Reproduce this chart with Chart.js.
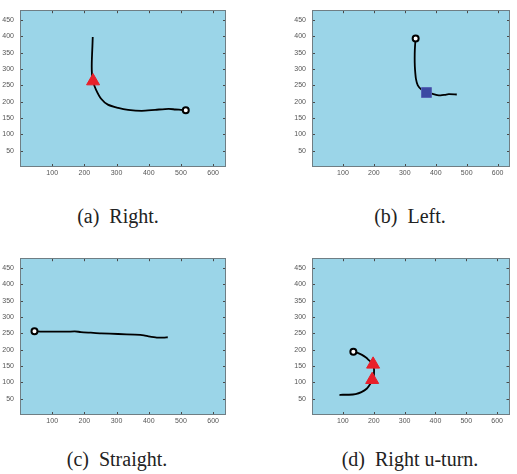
<!DOCTYPE html>
<html>
<head>
<meta charset="utf-8">
<script src="https://cdn.jsdelivr.net/npm/chart.js@4/dist/chart.umd.min.js"></script>
<style>
  html, body { margin:0; padding:0; background:#fff; width:517px; height:474px; overflow:hidden; }
  .wrap { position:absolute; }
  canvas { display:block; }
  .cap { position:absolute; width:220px; text-align:center; font-family:"Liberation Serif","Times New Roman",serif;
         font-size:20px; line-height:20px; color:#222; white-space:pre; }
</style>
</head>
<body>
<div class="wrap" style="left:0px;top:0px;"><canvas id="ca" width="240" height="190"></canvas></div>
<div class="wrap" style="left:292px;top:0px;"><canvas id="cb" width="226" height="190"></canvas></div>
<div class="wrap" style="left:0px;top:248px;"><canvas id="cc" width="240" height="190"></canvas></div>
<div class="wrap" style="left:292px;top:248px;"><canvas id="cd" width="226" height="190"></canvas></div>
<div class="cap" id="capA" style="left:8px;top:206px;"></div>
<div class="cap" id="capB" style="left:300px;top:206px;"></div>
<div class="cap" id="capC" style="left:7px;top:449px;"></div>
<div class="cap" id="capD" style="left:300px;top:449px;"></div>
<script>
// ---- data ----
const captions = ["(a)  Right.", "(b)  Left.", "(c)  Straight.", "(d)  Right u-turn."];
const xTicks = [100, 200, 300, 400, 500, 600];
const yTicks = [50, 100, 150, 200, 250, 300, 350, 400, 450];
const xRange = [0, 640];
const yRange = [0, 480];

// (a) Right
const aPathX = [226, 225, 224, 223, 223, 224, 227, 236, 252, 273, 305, 336, 378, 420, 462, 483, 500, 515];
const aPathY = [398, 370, 347, 320, 298, 280, 262, 237, 209, 191, 181, 175, 172, 175, 178, 176, 175, 174];
const aStartX = [515], aStartY = [174];
const aTriX = [227], aTriY = [263];

// (b) Left
const bPathX = [335, 333, 332, 332, 333, 336, 342, 354, 369, 390, 405, 416, 430, 442, 468];
const bPathY = [393, 370, 347, 320, 298, 270, 250, 237, 229, 224, 220, 219, 221, 223, 222];
const bStartX = [335], bStartY = [393];
const bSqX = [370], bSqY = [228];

// (c) Straight
const cPathX = [45, 70, 95, 147, 170, 189, 220, 252, 305, 357, 385, 399, 425, 445, 459];
const cPathY = [256, 255, 255, 255, 256, 254, 252, 250, 248, 246, 244, 241, 237, 237, 238];
const cStartX = [45], cStartY = [256];

// (d) Right u-turn
const dPathX = [134, 148, 162, 175, 183, 191, 198, 201, 201, 200, 195, 188, 178, 160, 141, 120, 100, 89];
const dPathY = [194, 190, 184, 176, 169, 162, 155, 140, 130, 118, 108, 94, 81, 70, 64, 62, 62, 61];
const dStartX = [134], dStartY = [194];
const dTriX = [198, 195], dTriY = [155, 108];

// ---- styles ----
const BG = '#9BD5E8';
const BORDER = '#6f7e84';
const TICKC = '#4a4a4a';
const RED = '#E8202A';
const BLUE = '#3C4AA3';

function pts(xs, ys) { return xs.map((x, i) => ({x: x, y: ys[i]})); }

const boxPlugin = {
  id: 'box',
  beforeDraw(chart) {
    const a = chart.chartArea, ctx = chart.ctx;
    ctx.save();
    ctx.fillStyle = BG;
    ctx.fillRect(a.left, a.top, a.right - a.left, a.bottom - a.top);
    ctx.restore();
  },
  afterDraw(chart) {
    const a = chart.chartArea, ctx = chart.ctx;
    const xs = chart.scales.x, ys = chart.scales.y;
    ctx.save();
    ctx.strokeStyle = TICKC;
    ctx.lineWidth = 1;
    ctx.beginPath();
    xTicks.forEach(v => {
      const px = Math.round(xs.getPixelForValue(v)) + 0.5;
      ctx.moveTo(px, a.bottom); ctx.lineTo(px, a.bottom - 3);
      ctx.moveTo(px, a.top); ctx.lineTo(px, a.top + 3);
    });
    yTicks.forEach(v => {
      const py = Math.round(ys.getPixelForValue(v)) + 0.5;
      ctx.moveTo(a.left, py); ctx.lineTo(a.left + 3, py);
      ctx.moveTo(a.right, py); ctx.lineTo(a.right - 3, py);
    });
    ctx.stroke();
    ctx.strokeStyle = BORDER;
    ctx.strokeRect(Math.round(a.left) + 0.5, Math.round(a.top) + 0.5,
                   Math.round(a.right - a.left) - 1, Math.round(a.bottom - a.top) - 1);
    ctx.restore();
  }
};

function makeChart(id, markerSets, pathX, pathY, padRight) {
  const datasets = markerSets.slice();
  datasets.push({
    data: pts(pathX, pathY), showLine: true, borderColor: '#000', borderWidth: 1.8,
    pointRadius: 0, tension: 0.25, fill: false
  });
  return new Chart(document.getElementById(id), {
    type: 'scatter',
    data: { datasets: datasets },
    options: {
      responsive: false, animation: false, devicePixelRatio: 1,
      layout: { padding: { left: 0, right: padRight, top: 5, bottom: 0 } },
      plugins: { legend: { display: false }, tooltip: { enabled: false } },
      scales: {
        x: {
          type: 'linear', min: xRange[0], max: xRange[1],
          afterFit(s) { s.height = 23; },
          afterBuildTicks(s) { s.ticks = xTicks.map(v => ({value: v})); },
          ticks: { font: { family: 'Liberation Sans', size: 7 }, color: '#555', padding: 2, maxRotation: 0, autoSkip: false },
          grid: { display: false, drawTicks: false },
          border: { display: false }
        },
        y: {
          type: 'linear', min: yRange[0], max: yRange[1],
          afterFit(s) { s.width = 20; },
          afterBuildTicks(s) { s.ticks = yTicks.map(v => ({value: v})); },
          ticks: { font: { family: 'Liberation Sans', size: 7 }, color: '#555', padding: 6, autoSkip: false },
          grid: { display: false, drawTicks: false },
          border: { display: false }
        }
      }
    },
    plugins: [boxPlugin]
  });
}

function startMarker(xs, ys) {
  return { data: pts(xs, ys), pointStyle: 'circle', pointRadius: 3, pointBorderWidth: 2,
           pointBorderColor: '#000', pointBackgroundColor: '#fff', showLine: false };
}
function triMarker(xs, ys) {
  return { data: pts(xs, ys), pointStyle: 'triangle', pointRadius: 7.5, pointBorderWidth: 1,
           pointBorderColor: RED, pointBackgroundColor: RED, showLine: false };
}
function sqMarker(xs, ys) {
  return { data: pts(xs, ys), pointStyle: 'rect', pointRadius: 7, pointBorderWidth: 1,
           pointBorderColor: '#5563b5', pointBackgroundColor: BLUE, showLine: false };
}

makeChart('ca', [startMarker(aStartX, aStartY), triMarker(aTriX, aTriY)], aPathX, aPathY, 14);
makeChart('cb', [startMarker(bStartX, bStartY), sqMarker(bSqX, bSqY)], bPathX, bPathY, 0);
makeChart('cc', [startMarker(cStartX, cStartY)], cPathX, cPathY, 14);
makeChart('cd', [startMarker(dStartX, dStartY), triMarker(dTriX, dTriY)], dPathX, dPathY, 0);

document.getElementById('capA').textContent = captions[0];
document.getElementById('capB').textContent = captions[1];
document.getElementById('capC').textContent = captions[2];
document.getElementById('capD').textContent = captions[3];
</script>
</body>
</html>
